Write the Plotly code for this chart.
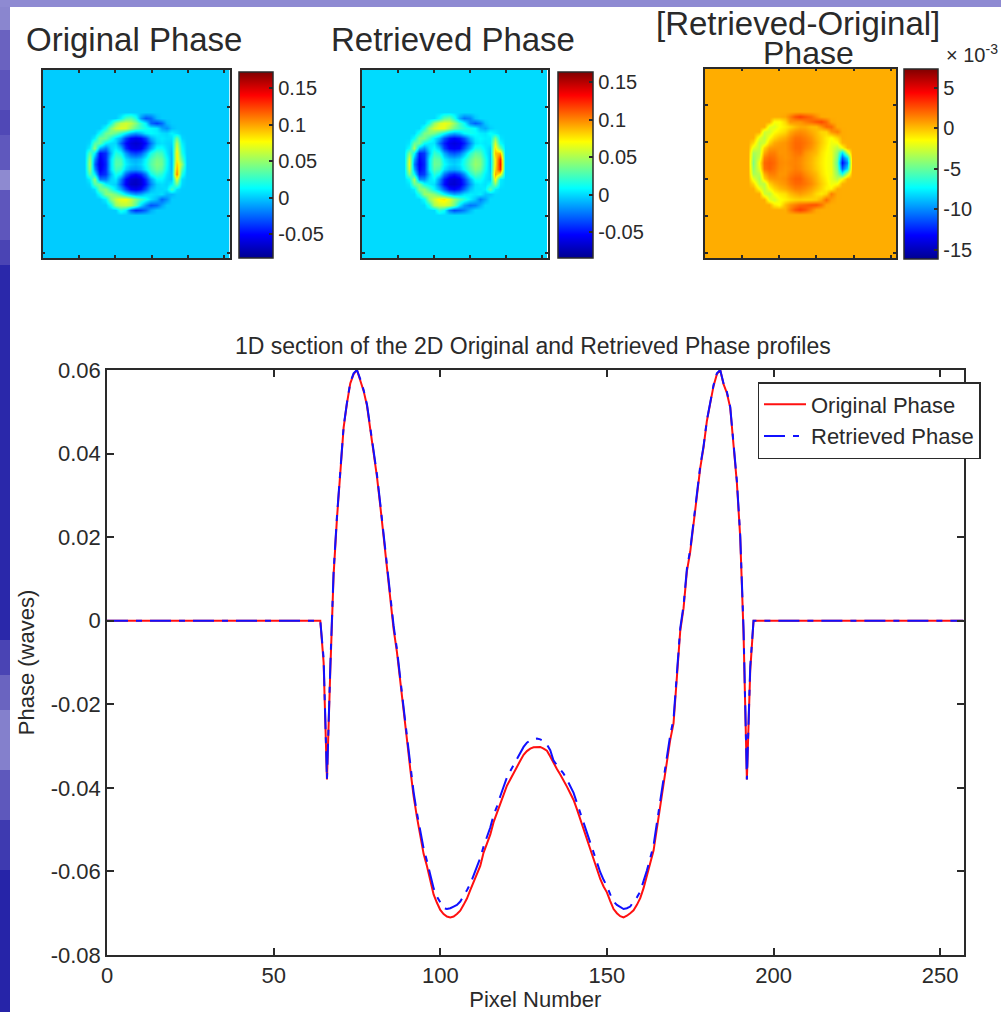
import plotly.graph_objects as go

W, H = 1001, 1012
FONT = "Liberation Sans"
INK = "#2a2a2a"

# ---------- 1D section ----------
x_section = [0] + list(range(64, 195)) + [257]
original_phase = [0, 0, -.0100, -.0380, -.0120, .0111, .0245, .0365, .0462, .0520, .0568, .0590, .0600, .0575, .0550, .0515, .0460, .0410, .0345, .0275, .0202, .0131, .0055, -.0020, -.0075, -.0140, -.0215, -.0284, -.0355, -.0420, -.0470, -.0512, -.0558, -.0587, -.0622, -.0655, -.0675, -.0692, -.0702, -.0708, -.0710, -.0708, -.0702, -.0694, -.0680, -.0665, -.0645, -.0626, -.0610, -.0587, -.0555, -.0535, -.0512, -.0482, -.0460, -.0435, -.0412, -.0395, -.0380, -.0363, -.0350, -.0335, -.0321, -.0312, -.0306, -.0303, -.0302, -.0302, -.0306, -.0311, -.0325, -.0341, -.0355, -.0368, -.0381, -.0397, -.0413, -.0429, -.0451, -.0475, -.0500, -.0523, -.0547, -.0571, -.0595, -.0618, -.0636, -.0650, -.0671, -.0690, -.0700, -.0707, -.0710, -.0706, -.0700, -.0693, -.0680, -.0664, -.0640, -.0612, -.0580, -.0550, -.0497, -.0445, -.0382, -.0330, -.0285, -.0245, -.0140, -.0025, .0030, .0118, .0165, .0235, .0310, .0365, .0415, .0478, .0520, .0562, .0590, .0600, .0566, .0545, .0510, .0410, .0330, .0200, -.0030, -.0380, -.0120, 0, 0]
retrieved_phase = [0, 0, -.0090, -.0380, -.0110, .0118, .0250, .0368, .0465, .0522, .0570, .0592, .0600, .0578, .0552, .0518, .0465, .0413, .0350, .0280, .0206, .0135, .0060, -.0012, -.0068, -.0132, -.0208, -.0276, -.0345, -.0410, -.0460, -.0500, -.0545, -.0575, -.0608, -.0640, -.0660, -.0675, -.0688, -.0690, -.0688, -.0684, -.0680, -.0672, -.0660, -.0645, -.0630, -.0610, -.0590, -.0568, -.0540, -.0518, -.0495, -.0465, -.0445, -.0420, -.0395, -.0375, -.0360, -.0345, -.0332, -.0318, -.0302, -.0292, -.0286, -.0283, -.0282, -.0284, -.0288, -.0296, -.0310, -.0335, -.0345, -.0355, -.0366, -.0380, -.0396, -.0412, -.0436, -.0460, -.0486, -.0510, -.0532, -.0556, -.0580, -.0602, -.0620, -.0635, -.0655, -.0672, -.0680, -.0685, -.0690, -.0688, -.0684, -.0672, -.0662, -.0648, -.0625, -.0598, -.0568, -.0538, -.0484, -.0430, -.0370, -.0318, -.0274, -.0235, -.0130, -.0018, .0036, .0124, .0170, .0240, .0315, .0370, .0418, .0480, .0522, .0564, .0592, .0600, .0568, .0548, .0512, .0415, .0335, .0205, -.0020, -.0380, -.0110, 0, 0]

# ---------- 2D phase maps: samples across the aperture ----------
map_x = [0] + list(range(58, 199, 7)) + [257]
map_y = [0] + list(range(58, 199, 7)) + [257]

original_map = [  # 1e-3 waves
 [0]*21,
 [0,0,0,0,0,0,0,10,30,35,20,-12,-30,-25,-5,0,0,0,0,0,0],
 [0,0,0,0,0,15,45,60,65,60,45,25,10,-25,-35,-25,-5,0,0,0,0],
 [0,0,0,0,15,45,62,68,66,50,35,25,18,12,8,-10,-15,-3,0,0,0],
 [0,0,0,15,40,45,38,25,10,-5,-12,-5,8,12,10,5,3,10,5,0,0],
 [0,0,10,40,40,22,5,-8,-35,-50,-55,-50,-35,-8,5,8,5,5,40,3,0],
 [0,3,35,38,10,5,3,-25,-48,-60,-64,-60,-48,-22,2,6,3,2,60,10,0],
 [0,10,50,-5,-20,2,10,-5,-40,-55,-58,-55,-35,-10,14,15,5,-2,70,15,0],
 [0,35,10,-48,-40,-5,22,15,-12,-30,-35,-28,-8,18,32,28,8,-5,80,20,0],
 [0,50,-15,-55,-40,5,32,30,5,-5,-8,-3,12,30,42,38,15,-6,80,35,0],
 [0,55,-25,-58,-42,5,35,33,10,1,-3,2,15,33,45,40,15,-6,90,50,0],
 [0,50,-15,-55,-40,5,30,25,2,-8,-10,-5,10,28,40,35,12,-5,100,35,0],
 [0,35,10,-45,-38,-5,18,8,-25,-42,-48,-40,-20,15,28,22,6,-2,110,20,0],
 [0,10,50,-20,-20,2,8,-18,-48,-62,-66,-60,-40,-10,12,12,3,-2,70,5,0],
 [0,3,35,40,12,5,1,-25,-52,-66,-68,-62,-45,-18,2,5,2,10,40,3,0],
 [0,0,5,40,45,25,8,-8,-32,-50,-55,-48,-30,-6,3,3,5,30,5,0,0],
 [0,0,0,15,45,50,42,28,10,-3,-12,-8,2,5,3,5,-5,-5,0,0,0],
 [0,0,0,0,10,45,62,72,74,62,45,30,18,5,-5,-25,-15,0,0,0,0],
 [0,0,0,0,0,15,50,58,60,55,35,5,-15,-30,-25,-10,0,0,0,0,0],
 [0,0,0,0,0,0,0,20,10,-25,-40,-35,-25,-8,0,0,0,0,0,0,0],
 [0]*21,
]
retrieved_map = [
 [0]*21,
 [0,0,0,0,0,0,0,10,30,35,15,-10,-25,-20,-5,0,0,0,0,0,0],
 [0,0,0,0,0,15,45,60,66,62,45,25,10,-20,-30,-22,-5,0,0,0,0],
 [0,0,0,0,15,45,60,66,65,50,35,25,18,12,8,-8,-12,-3,0,0,0],
 [0,0,0,15,38,42,38,25,10,-4,-11,-5,8,12,10,5,3,10,5,0,0],
 [0,0,10,38,38,22,5,-8,-33,-48,-53,-48,-33,-8,5,8,5,5,40,3,0],
 [0,3,35,36,10,5,3,-24,-46,-58,-62,-58,-46,-20,2,6,3,5,60,10,0],
 [0,10,50,-5,-18,2,10,-5,-38,-53,-56,-53,-33,-8,14,15,5,-2,75,35,0],
 [0,40,10,-46,-40,-5,22,15,-12,-28,-33,-26,-8,18,32,28,8,-5,85,90,0],
 [0,60,-12,-53,-42,5,32,30,5,-5,-8,-3,12,30,42,38,15,-6,75,125,0],
 [0,65,-22,-56,-44,5,35,33,10,1,-3,2,15,33,45,40,15,-6,75,130,0],
 [0,58,-12,-53,-42,5,30,25,2,-8,-10,-5,10,28,40,35,12,-5,80,125,0],
 [0,40,10,-43,-38,-5,18,8,-24,-40,-46,-38,-18,15,28,22,6,-2,90,70,0],
 [0,10,50,-18,-18,2,8,-16,-46,-60,-64,-58,-38,-8,12,12,3,-2,70,5,0],
 [0,3,35,38,12,5,1,-23,-50,-64,-66,-60,-43,-16,2,5,2,10,40,3,0],
 [0,0,5,40,43,25,8,-8,-30,-48,-53,-46,-28,-6,3,3,5,30,5,0,0],
 [0,0,0,15,45,48,42,28,10,-3,-12,-8,2,5,3,5,-5,-5,0,0,0],
 [0,0,0,0,10,45,60,72,76,64,45,30,18,5,-5,-22,-12,0,0,0,0],
 [0,0,0,0,0,15,50,58,60,55,35,5,-15,-25,-22,-10,0,0,0,0,0],
 [0,0,0,0,0,0,0,20,10,-22,-35,-30,-22,-8,0,0,0,0,0,0,0],
 [0]*21,
]
difference_map = [  # 1e-3 waves
 [0]*21,
 [0,0,0,0,0,0,0,.6,1.5,2.5,3,2.5,2,1.2,.5,0,0,0,0,0,0],
 [0,0,0,0,0,-1.5,-1.5,-.5,1,1,1,1.5,2,2.5,2.8,2,.6,0,0,0,0],
 [0,0,0,0,-2,-2.2,-1.5,-1,-.5,.1,.5,.5,.1,.1,1,2,2,.5,0,0,0],
 [0,0,0,-2.5,-2.5,-1.5,-1,-.5,.5,1,1.2,1,.5,.1,-.5,-.5,1,1.5,.5,0,0],
 [0,0,-2,-3,-1.5,-.5,.1,.5,1.2,1.8,1.8,1.5,1,.3,-.3,-1,-1.5,-.5,.5,0,0],
 [0,-.5,-3,-2.5,-.5,.5,.8,1,1.5,2,2,1.7,1.2,.5,-.3,-1,-1.8,-1.5,.3,0,0],
 [0,-2,-3,-.5,.8,1,1,1,1.5,2,2,1.5,1,.3,-.5,-1.2,-2,-3,-1.5,.3,0],
 [0,-3.5,-3,.5,1.5,1.5,1,1,1.3,1.7,1.8,1,.5,.1,-.8,-1.4,-1.8,-4,-8,-3,0],
 [0,-4,-2.5,1.5,2,1.8,1.2,1,1.2,1.5,1.3,.8,.3,-.3,-.9,-1.5,-1.8,-4.5,-11,-8,0],
 [0,-4.5,-1.5,2,2.3,2,1.3,1.1,1.3,1.4,1.2,.7,.2,-.4,-1,-1.5,-1.8,-5,-13,-10,0],
 [0,-4,-2,1.8,2.2,1.8,1.2,1,1.2,1.5,1.3,.8,.3,-.3,-.9,-1.5,-1.8,-4.5,-11,-8,0],
 [0,-3.5,-3,.5,1.5,1.5,1,1,1.5,1.8,1.8,1.2,.6,.1,-.8,-1.4,-1.8,-4,-7,-3,0],
 [0,-2,-3.5,-.5,.8,1,1,1.2,1.8,2.2,2.2,1.6,1,.3,-.5,-1.2,-2,-3,-1.5,.3,0],
 [0,-.5,-3,-3,-.5,.3,.7,1,1.6,2,2,1.7,1.2,.5,-.3,-1,-1.8,-1.5,.3,0,0],
 [0,0,-1.5,-3,-1.5,-.5,.1,.5,1,1.5,1.5,1.2,.7,.1,-.5,-1.2,-1.2,.5,0,0,0],
 [0,0,0,-2.5,-3,-1.5,-1,-.7,.1,.5,.8,.5,.1,-.6,-1,-.5,1.5,.5,0,0,0],
 [0,0,0,0,-2,-2.5,-1.6,-1.2,-.8,-.5,-.4,-.5,-.5,-.3,.5,2,.8,0,0,0,0],
 [0,0,0,0,0,-1,-1.5,.1,1,1.5,2,2.2,2.5,2.5,1.8,.6,0,0,0,0,0],
 [0,0,0,0,0,0,0,.4,1.5,2.5,3,2.5,1.5,.6,0,0,0,0,0,0,0],
 [0]*21,
]
map_background = [0, 0, .45]

title_texts = ["Original Phase", "Retrieved Phase", "[Retrieved-Original]", "Phase"]
section_title = "1D section of the 2D Original and Retrieved Phase profiles"
map_ticks = [[-50, 0, 50, 100, 150], [-50, 0, 50, 100, 150], [-15, -10, -5, 0, 5]]
map_ticktext = [["-0.05", "0", "0.05", "0.1", "0.15"], ["-0.05", "0", "0.05", "0.1", "0.15"], ["-15", "-10", "-5", "0", "5"]]
map_limits = [(-82.7, 172), (-84.5, 164), (-16.1, 7.35)]
axis_ticks = [50, 100, 150, 200, 250]
section_xticks = [0, 50, 100, 150, 200, 250]
section_yticks = [-.08, -.06, -.04, -.02, 0, .02, .04, .06]
section_yticktext = ["-0.08", "-0.06", "-0.04", "-0.02", "0", "0.02", "0.04", "0.06"]

# (top, bottom, colour) for the slide's left edge
edge_bands = [(0, 30, "#8a86cf"), (30, 70, "#6a62c0"), (70, 110, "#5c54bb"), (110, 135, "#5048b6"),
              (135, 170, "#5f58bd"), (170, 190, "#8e8ad0"), (190, 240, "#5e56bc"), (240, 265, "#4a44b4"),
              (265, 640, "#2a28aa"), (640, 675, "#4a44b4"), (675, 710, "#6a64c0"), (710, 770, "#8480cc"),
              (770, 820, "#5e58bc"), (820, 870, "#3e3ab0"), (870, 1012, "#2624a8")]

jet = [[0, "rgb(0,0,143)"], [.125, "rgb(0,0,255)"], [.375, "rgb(0,255,255)"],
       [.625, "rgb(255,255,0)"], [.875, "rgb(255,0,0)"], [1, "rgb(128,0,0)"]]


def pad(rows, bg):
    blank = [bg] * 23
    return [blank] + [[bg] + [bg if v == 0 else v for v in r] + [bg] for r in rows] + [blank]


def xdom(a, b):
    return [a / W, b / W]


def ydom(top, bottom):
    return [1 - bottom / H, 1 - top / H]


boxes = [(42.5, 229.5, 70, 258), (362, 547.5, 70, 258), (705, 896, 68.5, 258)]
bars = [(239, 273, 72, 258), (558, 593, 72, 258), (903.5, 937.5, 68.5, 258)]
main_box = (107, 963.5, 370, 955)
maps = [original_map, retrieved_map, difference_map]

fig = go.Figure()
layout = dict(width=W, height=H, margin=dict(l=0, r=0, t=0, b=0, autoexpand=False), paper_bgcolor="white", plot_bgcolor="white",
              font=dict(family=FONT, color=INK), showlegend=True)

for k in range(3):
    b, c = boxes[k], bars[k]
    n = "" if k == 0 else str(k + 1)
    fig.add_trace(go.Heatmap(
        x=map_x, y=map_y, z=pad(maps[k], map_background[k]), zmin=map_limits[k][0], zmax=map_limits[k][1], zsmooth="best",
        colorscale=jet, showlegend=False, xaxis="x" + n, yaxis="y" + n,
        colorbar=dict(x=c[0] / W, xanchor="left", xpad=0, ypad=0, y=1 - c[2] / H, yanchor="top",
                      len=c[3] - c[2], lenmode="pixels", thickness=c[1] - c[0], thicknessmode="pixels",
                      outlinecolor=INK, outlinewidth=1.5, ticks="inside", ticklen=4, tickwidth=1.5, tickcolor=INK,
                      tickvals=map_ticks[k], ticktext=map_ticktext[k],
                      tickfont=dict(size=20, family=FONT, color=INK))))
    axis = dict(range=[0, 257], tickvals=axis_ticks, showticklabels=False, ticks="inside", ticklen=3, tickwidth=1.5,
                tickcolor=INK, showline=True, linecolor=INK, linewidth=1.5, mirror="ticks", showgrid=False, zeroline=False)
    layout["xaxis" + n] = dict(axis, domain=xdom(b[0], b[1]), anchor="y" + n)
    layout["yaxis" + n] = dict(axis, domain=ydom(b[2], b[3]), anchor="x" + n, range=[257, 0])

fig.add_trace(go.Scatter(x=x_section, y=original_phase, mode="lines", name="Original Phase",
                         line=dict(color="#ff1010", width=2), xaxis="x4", yaxis="y4"))
fig.add_trace(go.Scatter(x=x_section, y=retrieved_phase, mode="lines", name="Retrieved Phase",
                         line=dict(color="#1010ff", width=2, dash="21px,8px,6px,8px"), xaxis="x4", yaxis="y4"))

main_axis = dict(ticks="inside", ticklen=7, tickwidth=1.5, tickcolor=INK, showline=True, linecolor=INK, linewidth=1.5,
                 mirror="ticks", showgrid=False, zeroline=False, tickfont=dict(size=22, family=FONT, color=INK))
layout["xaxis4"] = dict(main_axis, domain=xdom(main_box[0], main_box[1]), anchor="y4", range=[0, 257],
                        tickvals=section_xticks, title=dict(text="Pixel Number", standoff=0, font=dict(size=22, family=FONT, color=INK)))
layout["yaxis4"] = dict(main_axis, domain=ydom(main_box[2], main_box[3]), anchor="x4", range=[-.08, .06],
                        tickvals=section_yticks, ticktext=section_yticktext,
                        title=dict(text="Phase (waves)", standoff=10, font=dict(size=22, family=FONT, color=INK)))
layout["legend"] = dict(x=757.5 / W, xanchor="left", y=1 - 382 / H, yanchor="top", bgcolor="white", bordercolor=INK,
                        borderwidth=1.5, font=dict(size=22, family=FONT, color=INK), itemwidth=42, tracegroupgap=0,
                        entrywidth=190, entrywidthmode="pixels")

anns = [
    dict(text=title_texts[0], x=134 / W, y=1 - 40 / H, size=33),
    dict(text=title_texts[1], x=453 / W, y=1 - 40 / H, size=33),
    dict(text=title_texts[2], x=798 / W, y=1 - 24 / H, size=33),
    dict(text=title_texts[3], x=808 / W, y=1 - 53 / H, size=32),
    dict(text=section_title, x=533 / W, y=1 - 346 / H, size=23),
    dict(text="× 10<sup>-3</sup>", x=972 / W, y=1 - 53 / H, size=20),
]
layout["annotations"] = [dict(text=a["text"], x=a["x"], y=a["y"], xref="paper", yref="paper", xanchor="center",
                              yanchor="middle", showarrow=False, font=dict(size=a["size"], family=FONT, color=INK))
                         for a in anns]

shapes = [dict(type="rect", xref="paper", yref="paper", x0=0, x1=10 / W, y0=1 - bot / H, y1=1 - top / H,
               fillcolor=col, line_width=0, layer="above") for top, bot, col in edge_bands]
shapes.append(dict(type="rect", xref="paper", yref="paper", x0=0, x1=1, y0=1 - 7 / H, y1=1,
                   fillcolor="#8e8ad2", line_width=0, layer="above"))
layout["shapes"] = shapes

fig.update_layout(**layout)
fig.write_html("out.html", config=dict(displayModeBar=False),
               post_script="document.body.style.margin='0';document.body.style.overflow='hidden';")
